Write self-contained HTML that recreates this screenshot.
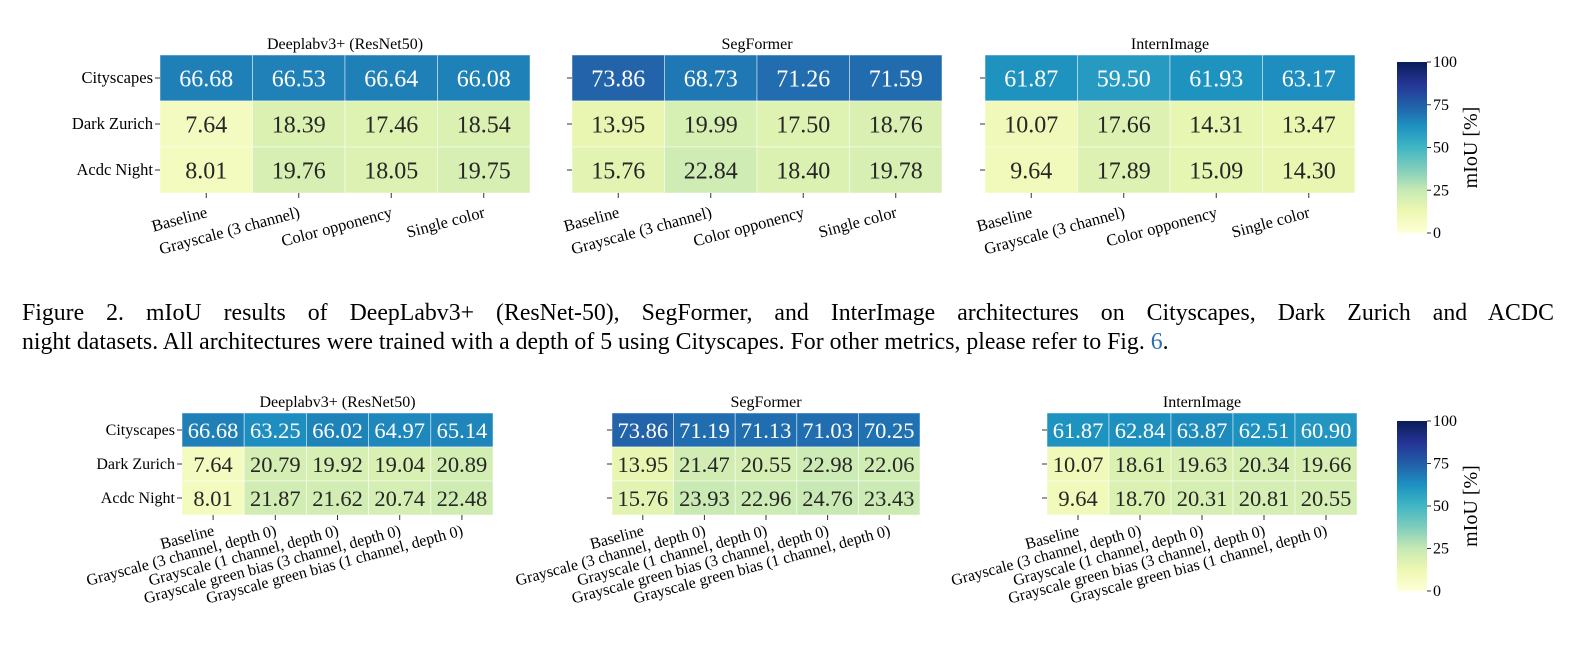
<!DOCTYPE html>
<html><head><meta charset="utf-8"><style>
body{margin:0;background:#fff;width:1592px;height:655px;overflow:hidden}
svg{display:block;font-family:"Liberation Serif",serif}
</style></head><body>
<svg id="fig" width="1592" height="655" viewBox="0 0 1592 655">
<defs><linearGradient id="cb" x1="0" y1="1" x2="0" y2="0">
<stop offset="0" stop-color="#ffffd9"/><stop offset="0.125" stop-color="#edf8b1"/><stop offset="0.25" stop-color="#c7e9b4"/><stop offset="0.375" stop-color="#7fcdbb"/><stop offset="0.5" stop-color="#41b6c4"/><stop offset="0.625" stop-color="#1d91c0"/><stop offset="0.75" stop-color="#225ea8"/><stop offset="0.875" stop-color="#253494"/><stop offset="1" stop-color="#081d58"/></linearGradient></defs>
<text id="cap1" x="22" y="320" font-size="23.8">Figure 2.  mIoU results of DeepLabv3+ (ResNet-50), SegFormer, and InterImage architectures on Cityscapes, Dark Zurich and ACDC</text>
<text x="22" y="349" font-size="23.8">night datasets. All architectures were trained with a depth of 5 using Cityscapes. For other metrics, please refer to Fig. <tspan fill="#2a6fb0">6</tspan>.</text>
</svg>
<script>
const rowLabels = ["Cityscapes","Dark Zurich","Acdc Night"];
const topCols = ["Baseline","Grayscale (3 channel)","Color opponency","Single color"];
const botCols = ["Baseline","Grayscale (3 channel, depth 0)","Grayscale (1 channel, depth 0)","Grayscale green bias (3 channel, depth 0)","Grayscale green bias (1 channel, depth 0)"];
const titles = ["Deeplabv3+ (ResNet50)","SegFormer","InternImage"];
const topDeeplab = [[66.68,66.53,66.64,66.08],[7.64,18.39,17.46,18.54],[8.01,19.76,18.05,19.75]];
const topSegformer = [[73.86,68.73,71.26,71.59],[13.95,19.99,17.50,18.76],[15.76,22.84,18.40,19.78]];
const topIntern = [[61.87,59.50,61.93,63.17],[10.07,17.66,14.31,13.47],[9.64,17.89,15.09,14.30]];
const botDeeplab = [[66.68,63.25,66.02,64.97,65.14],[7.64,20.79,19.92,19.04,20.89],[8.01,21.87,21.62,20.74,22.48]];
const botSegformer = [[73.86,71.19,71.13,71.03,70.25],[13.95,21.47,20.55,22.98,22.06],[15.76,23.93,22.96,24.76,23.43]];
const botIntern = [[61.87,62.84,63.87,62.51,60.90],[10.07,18.61,19.63,20.34,19.66],[9.64,18.70,20.31,20.81,20.55]];
const cbTicks = [0,25,50,75,100];

const NS="http://www.w3.org/2000/svg", svg=document.getElementById('fig');
const pal=["#ffffd9","#edf8b1","#c7e9b4","#7fcdbb","#41b6c4","#1d91c0","#225ea8","#253494","#081d58"];
function hex(h){return [1,3,5].map(i=>parseInt(h.substr(i,2),16));}
function cmap(v){let t=Math.max(0,Math.min(1,v/100))*8;let i=Math.min(7,Math.floor(t)),f=t-i;
 const a=hex(pal[i]),b=hex(pal[i+1]);return "rgb("+a.map((c,k)=>Math.round(c+(b[k]-c)*f)).join(",")+")";}
function el(tag,attrs,parent){const e=document.createElementNS(NS,tag);for(const k in attrs)e.setAttribute(k,attrs[k]);(parent||svg).appendChild(e);return e;}
function heat(name,x0,y0,w,h,cols,vals,title,fs,lfs,labDy,showRows){
 const g=el('g',{});
 
 
 const cw=w/cols.length, rh=h/rowLabels.length;
 const xs=j=>x0+j*cw, ys=i=>y0+i*rh;
 const t=el('text',{x:x0+w/2,y:y0-6,'font-size':16,'text-anchor':'middle'},g);t.textContent=title;
 
 
 vals.forEach((row,i)=>row.forEach((v,j)=>{
  const r=el('rect',{x:xs(j),y:ys(i),width:cw,height:rh,fill:cmap(v),stroke:'rgba(255,255,255,0.6)','stroke-width':0.8},g);
  
  
  const tx=el('text',{x:xs(j)+cw/2,y:ys(i)+rh/2+fs*0.35,'font-size':fs,'text-anchor':'middle',fill:v>50?'#fff':'#262626'},g);tx.textContent=v.toFixed(2);
  
  
 }));
 rowLabels.forEach((l,i)=>{
  const cy=ys(i)+rh/2;
  el('line',{x1:x0-5,x2:x0,y1:cy,y2:cy,stroke:'#333','stroke-width':1},g);
  if(showRows){
   const tx=el('text',{x:x0-7,y:cy+5,'font-size':lfs,'text-anchor':'end'},g);tx.textContent=l;
   
   
  }
 });
 cols.forEach((c,j)=>{
  const cx=xs(j)+cw/2, yb=y0+h;
  el('line',{x1:cx,x2:cx,y1:yb,y2:yb+5,stroke:'#333','stroke-width':1},g);
  const ty=yb+labDy;
  const tx=el('text',{x:cx+2,y:ty,'font-size':lfs,'text-anchor':'end',transform:`rotate(-15 ${cx+2} ${ty})`},g);tx.textContent=c;
  
  
 });
}
function colorbar(name,x,y,w,h){
 const g=el('g',{});
 
 
 el('rect',{x:x,y:y,width:w,height:h,fill:'url(#cb)'},g);
 cbTicks.forEach(v=>{const ty=y+h-v/100*h;
  el('line',{x1:x+w,x2:x+w+4,y1:ty,y2:ty,stroke:'#333'},g);
  const t=el('text',{x:x+w+6,y:ty+5,'font-size':16},g);t.textContent=v;
  
  });
 const cx=x+w+50, cy=y+h/2;
 const t=el('text',{x:cx,y:cy,'font-size':20,'text-anchor':'middle',transform:`rotate(-90 ${cx} ${cy})`},g);t.textContent="mIoU [%]";
 
 
}
heat('top-deeplab-heatmap',160,55,370,138,topCols,topDeeplab,titles[0],24,16.5,24,true);
heat('top-segformer-heatmap',572,55,370,138,topCols,topSegformer,titles[1],24,16.5,24,false);
heat('top-intern-heatmap',985,55,370,138,topCols,topIntern,titles[2],24,16.5,24,false);
colorbar('top-colorbar',1397,62,30,171);
heat('bottom-deeplab-heatmap',182,413,311,102,botCols,botDeeplab,titles[0],22.5,16,20,true);
heat('bottom-segformer-heatmap',612,413,308,102,botCols,botSegformer,titles[1],22.5,16,20,false);
heat('bottom-intern-heatmap',1047,413,310,102,botCols,botIntern,titles[2],22.5,16,20,false);
colorbar('bottom-colorbar',1397,421,30,170);
const cap=document.getElementById('cap1');
const len=cap.getComputedTextLength();
const spaces=(cap.textContent.match(/ /g)||[]).length;
if(len<1548) cap.setAttribute('word-spacing',((1548-len)/spaces).toFixed(2));
</script>
</body></html>
